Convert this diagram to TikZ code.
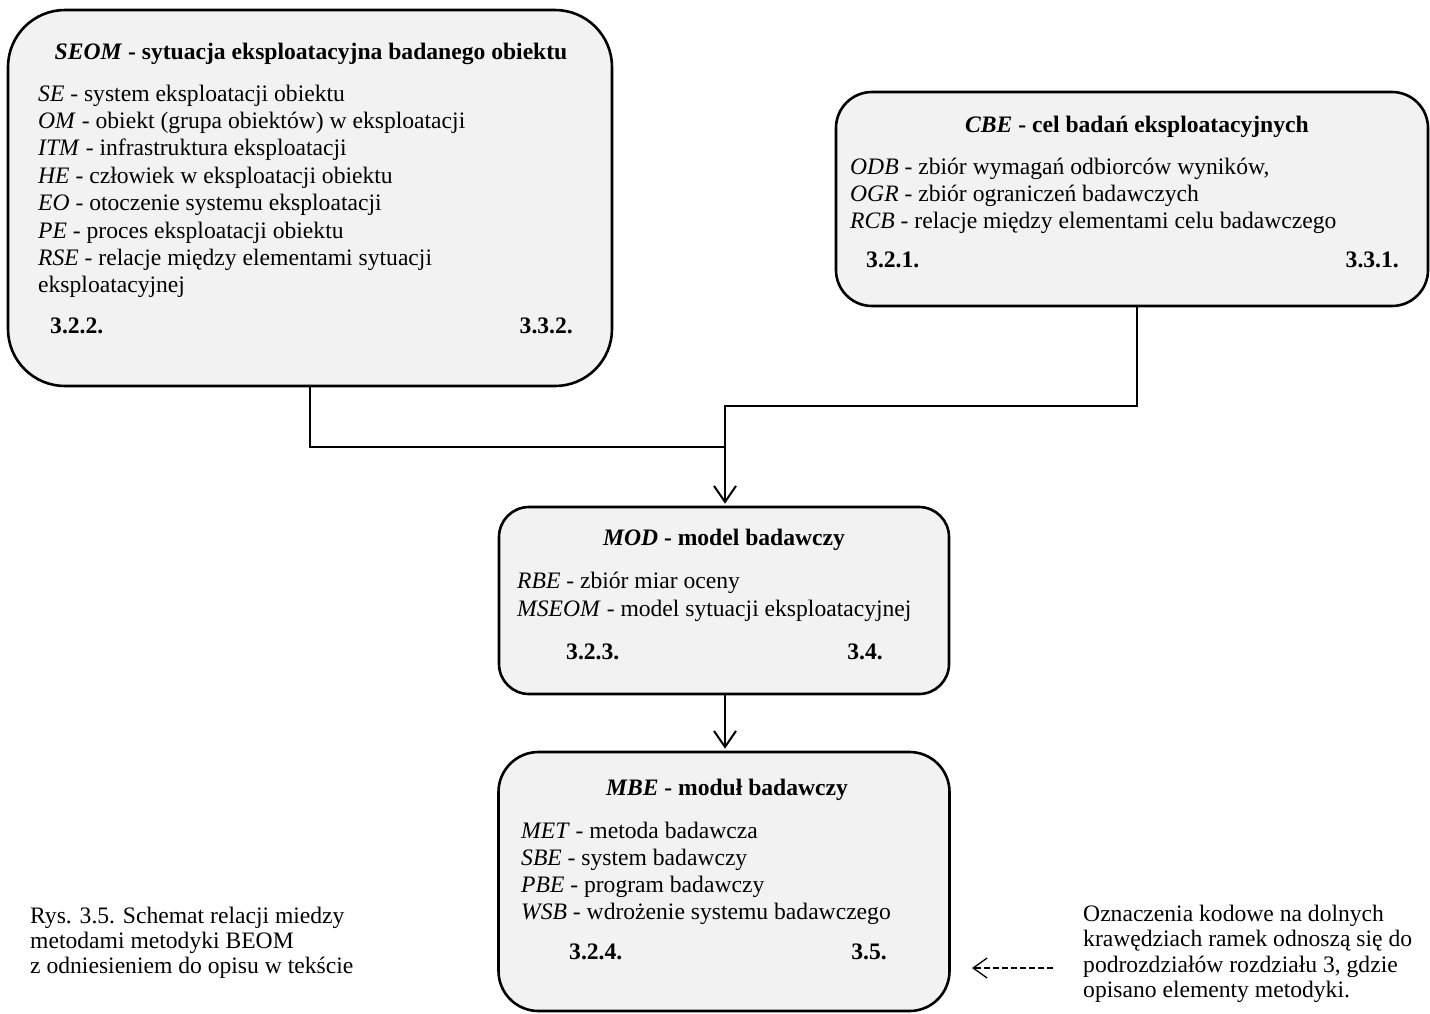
\documentclass[tikz,border=0pt]{standalone}
\usepackage{fontspec}
\setmainfont{Liberation Serif}
\usetikzlibrary{arrows.meta}
\definecolor{boxgray}{RGB}{242,242,242}
\begin{document}
\begin{tikzpicture}[x=1pt,y=-1pt,
  frame/.style={draw, line width=2.6pt, fill=boxgray, inner sep=0pt},
  txt/.style={anchor=base west, inner sep=0pt, font=\fontsize{23.6}{27}\selectfont},
  ttl/.style={anchor=base, inner sep=0pt, font=\fontsize{23.6}{27}\selectfont\bfseries},
  code/.style={inner sep=0pt, font=\fontsize{23.6}{27}\selectfont\bfseries},
  conn/.style={draw, line width=2pt},
  tip/.style={-{Straight Barb[length=16pt,width=22pt,line width=2pt]}}]
\useasboundingbox (0,0) rectangle (1430,1013);

% frames
\node[frame, rounded corners=57pt, minimum width=604pt, minimum height=376pt] (seom) at (310,198) {};
\node[frame, rounded corners=36pt, minimum width=592pt, minimum height=214pt] (cbe) at (1132,199) {};
\node[frame, rounded corners=30pt, minimum width=450pt, minimum height=187pt] (mod) at (724,600.5) {};
\node[frame, rounded corners=40pt, minimum width=451pt, minimum height=259pt] (mbe) at (724,881.5) {};

% SEOM
\node[ttl] (seom-t) at (311,59) {\textit{SEOM} - sytuacja eksploatacyjna badanego obiektu};
\foreach \t [count=\i] in {
  {\textit{SE} - system eksploatacji obiektu},
  {\textit{OM} - obiekt (grupa obiektów) w eksploatacji},
  {\textit{ITM} - infrastruktura eksploatacji},
  {\textit{HE} - człowiek w eksploatacji obiektu},
  {\textit{EO} - otoczenie systemu eksploatacji},
  {\textit{PE} - proces eksploatacji obiektu},
  {\textit{RSE} - relacje między elementami sytuacji},
  {eksploatacyjnej}}
  \node[txt] (seom-l\i) at (38,{101+27.4*(\i-1)}) {\t};
\node[code, anchor=base west] (seom-a) at (50,333) {3.2.2.};
\node[code, anchor=base east] (seom-b) at (573,333) {3.3.2.};

% CBE
\node[ttl] (cbe-t) at (1137,132) {\textit{CBE} - cel badań eksploatacyjnych};
\foreach \t [count=\i] in {
  {\textit{ODB} - zbiór wymagań odbiorców wyników,},
  {\textit{OGR} - zbiór ograniczeń badawczych},
  {\textit{RCB} - relacje między elementami celu badawczego}}
  \node[txt] (cbe-l\i) at (850,{174+27.3*(\i-1)}) {\t};
\node[code, anchor=base west] (cbe-a) at (866,267) {3.2.1.};
\node[code, anchor=base east] (cbe-b) at (1399,267) {3.3.1.};

% MOD
\node[ttl] (mod-t) at (724,545) {\textit{MOD} - model badawczy};
\node[txt] (mod-l1) at (517,588) {\textit{RBE} - zbiór miar oceny};
\node[txt] (mod-l2) at (517,616) {\textit{MSEOM} - model sytuacji eksploatacyjnej};
\node[code, anchor=base west] (mod-a) at (566,659) {3.2.3.};
\node[code, anchor=base east] (mod-b) at (883,659) {3.4.};

% MBE
\node[ttl] (mbe-t) at (727,795) {\textit{MBE} - moduł badawczy};
\foreach \t [count=\i] in {
  {\textit{MET} - metoda badawcza},
  {\textit{SBE} - system badawczy},
  {\textit{PBE} - program badawczy},
  {\textit{WSB} - wdrożenie systemu badawczego}}
  \node[txt] (mbe-l\i) at (521,{838+27.3*(\i-1)}) {\t};
\node[code, anchor=base west] (mbe-a) at (569,959) {3.2.4.};
\node[code, anchor=base east] (mbe-b) at (887,959) {3.5.};

% connectors
\coordinate (hi) at (725,406);
\coordinate (lo) at (725,447);
\draw[conn] (seom.south) |- (lo);
\draw[conn, tip, shorten >=2pt] ([xshift=5pt]cbe.south) |- (hi) -- (hi |- mod.north);
\draw[conn, tip, shorten >=2pt] ([xshift=1pt]mod.south) -- ([xshift=1pt]mbe.north);

% caption
\foreach \t [count=\i] in {
  {Rys. 3.5. Schemat relacji miedzy},
  {metodami metodyki BEOM},
  {z odniesieniem do opisu w tekście}}
  \node[txt] (cap-l\i) at (30,{923+25*(\i-1)}) {\t};

% note with dashed pointer
\foreach \t [count=\i] in {
  {Oznaczenia kodowe na dolnych},
  {krawędziach ramek odnoszą się do},
  {podrozdziałów rozdziału 3, gdzie},
  {opisano elementy metodyki.}}
  \node[txt] (note-l\i) at (1083,{921+25.5*(\i-1)}) {\t};
\coordinate (dtip) at (972,968);
\draw[line width=1.3pt, dash pattern=on 6pt off 3pt,
      -{Straight Barb[length=14pt,width=20pt,line width=1.3pt]}]
  (note-l3.west |- dtip) ++(-30,0) coordinate (dtail) -- (dtip);
\end{tikzpicture}
\end{document}
